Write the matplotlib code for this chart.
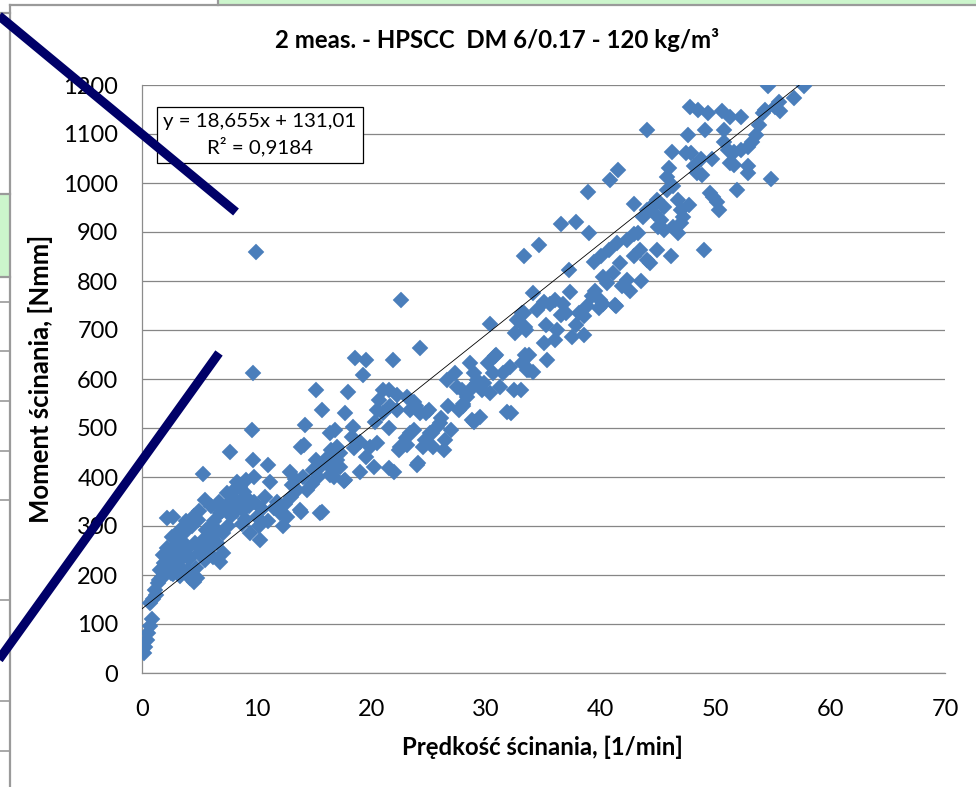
import matplotlib
matplotlib.use("Agg")
import matplotlib.pyplot as plt
from matplotlib.lines import Line2D
from matplotlib.patches import Rectangle
import numpy as np

plt.rcParams['font.family'] = ['Lato', 'DejaVu Sans']

# ---------------- data ----------------
speed = [
    0.2, 0.3, 0.4, 0.55, 0.7, 0.85, 0.7, 1.0, 1.1, 1.4, 1.6, 2.0, 1.9, 2.3, 2.7, 3.3, 3.6, 4.2, 4.5, 4.8,
    2.15, 2.7, 2.6, 3.0, 3.3, 2.7, 3.6, 3.9, 3.3, 4.6, 4.9, 5.6, 5.9, 5.5, 5.3, 6.2, 6.8, 7.1, 6.5, 7.1,
    6.8, 7.5, 7.7, 7.4, 8.0, 8.5, 8.1, 8.5, 8.8, 9.1, 8.7, 9.1, 9.7, 9.6, 9.4, 10.0, 10.3, 10.7, 11.0, 11.2,
    11.5, 12.0, 12.3, 12.6, 12.9, 13.1, 13.5, 13.8, 14.1, 14.4, 14.9, 15.2, 15.7, 16.0, 16.4, 16.5, 17.0,
    1.2, 1.5, 1.8, 2.2, 2.4, 2.9, 3.1, 3.5, 3.8, 4.0, 4.2, 4.4, 4.0, 3.0, 5.0, 5.2, 5.5, 5.8, 6.0, 6.3,
    6.6, 7.0, 7.3, 7.8, 8.2, 8.3, 7.9, 8.9, 9.3, 9.8, 10.2, 6.0, 6.7, 5.0, 4.5, 9.0, 9.8, 10.5, 11.0, 11.8,
    12.5, 13.0, 13.3, 14.0, 14.8, 15.3, 15.5, 16.2, 16.8, 17.3, 3.8, 4.7, 2.5, 1.7,
    22.6, 30.3, 24.2, 18.6, 19.5, 21.9, 19.3, 18.0, 17.7, 16.8, 18.4, 19.0, 19.9, 18.3, 17.0, 16.4, 17.3,
    17.7, 19.0, 20.2, 21.5, 16.7, 20.3, 21.0, 20.7, 21.5, 22.2, 22.2, 23.1, 23.7, 23.4, 24.2, 25.0, 23.7,
    23.0, 22.4, 23.1, 24.1, 24.7, 25.1, 25.7, 25.4, 26.3, 26.4, 26.9, 26.1, 26.7, 26.6, 27.3, 27.5, 27.6,
    28.0, 28.6, 28.6, 28.9, 28.3, 29.2, 29.6, 29.5, 28.9, 30.2, 30.8, 30.6, 31.5, 32.1, 31.2, 32.2, 32.4,
    32.5, 32.7, 33.1, 33.4, 33.4, 33.6, 16.4, 16.7, 17.6, 15.2, 15.7, 14.2, 13.9, 15.5, 13.9, 9.7, 9.9,
    21.0, 20.5, 21.6, 23.9, 24.8, 23.4, 22.5, 24.0, 24.5, 25.3, 26.0, 27.9, 29.2, 28.8, 30.3, 30.9, 31.8,
    33.1, 33.7, 28.0, 29.8, 22.0, 19.5, 20.5, 21.5, 18.5,
    34.1, 33.0, 33.7, 35.3, 35.0, 36.0, 33.5, 33.3, 34.4, 35.2, 36.2, 35.6, 36.7, 37.0, 37.5, 38.5, 38.1,
    38.8, 39.8, 41.3, 40.2, 35.0, 36.0, 37.3, 38.5, 39.2, 39.9, 41.2, 34.1, 33.3, 34.6, 37.2, 36.5, 37.8,
    39.0, 38.9, 40.8, 41.5, 42.9, 44.0, 39.4, 40.0, 40.7, 41.4, 42.3, 42.9, 43.2, 40.2, 41.1, 42.3, 40.5,
    41.7, 42.9, 43.4, 44.0, 44.3, 44.9, 46.1, 49.0, 43.7, 44.6, 45.2, 45.5, 46.7, 45.5, 44.0, 44.9, 47.0,
    47.7, 47.2, 45.8, 45.8, 45.9, 46.3, 46.2, 47.6, 47.9, 48.7, 48.1, 48.4, 48.8, 49.7, 49.5, 50.1, 50.3,
    49.8, 51.6, 51.9, 52.8, 52.8, 50.7, 51.1, 51.6, 52.2, 52.8, 53.2, 53.5, 53.8, 54.1, 54.3, 54.8, 54.6,
    55.2, 55.5, 55.6, 56.8, 57.7, 47.8, 48.5, 49.3, 50.6, 51.3, 52.2, 49.1, 50.7, 47.4, 51.3, 46.7, 44.6,
    47.0, 46.3, 45.0, 39.5, 42.5, 43.5, 41.8, 36.5, 37.8,
]
moment = [
    40, 54, 67, 81, 95, 110, 142, 152, 169, 183, 210, 200, 224, 217, 203, 197, 210, 193, 186, 193,
    316, 319, 278, 271, 292, 244, 251, 237, 231, 265, 312, 292, 278, 353, 407, 237, 227, 244, 265, 285,
    326, 299, 452, 367, 373, 380, 350, 346, 333, 360, 305, 394, 435, 496, 285, 319, 271, 360, 424, 390,
    336, 326, 299, 319, 411, 384, 373, 333, 465, 373, 414, 435, 329, 428, 404, 455, 435,
    160, 190, 240, 255, 230, 260, 285, 270, 290, 255, 235, 300, 210, 225, 245, 270, 230, 255, 300, 310,
    290, 330, 340, 320, 330, 390, 360, 370, 340, 350, 300, 340, 350, 330, 320, 315, 400, 335, 310, 350,
    345, 360, 395, 400, 385, 400, 420, 440, 430, 450, 310, 215, 205, 195,
    762, 713, 663, 642, 639, 639, 608, 574, 530, 496, 503, 472, 462, 482, 462, 441, 421,
    394, 411, 421, 418, 414, 513, 530, 557, 578, 567, 537, 563, 554, 537, 530, 537, 496,
    479, 455, 465, 428, 476, 489, 503, 462, 455, 476, 496, 520, 544, 598, 612, 584, 537,
    550, 632, 578, 612, 564, 591, 578, 523, 513, 632, 646, 612, 612, 625, 584, 530, 578,
    693, 720, 734, 707, 649, 618, 489, 400, 392, 578, 537, 506, 462, 326, 329, 612, 860,
    578, 537, 544, 544, 530, 489, 462, 424, 462, 489, 510, 578, 598, 516, 571, 649, 533,
    632, 618, 544, 591, 410, 440, 470, 500, 460,
    615, 578, 649, 639, 673, 680, 700, 734, 741, 710, 700, 754, 754, 734, 686, 690, 734,
    748, 744, 748, 754, 758, 761, 778, 728, 769, 761, 751, 775, 850, 873, 822, 917, 921,
    897, 982, 1006, 1027, 958, 1108, 839, 850, 863, 877, 884, 895, 898, 809, 816, 802, 795,
    836, 850, 863, 843, 836, 863, 850, 863, 931, 938, 924, 904, 897, 951, 945, 965, 945,
    955, 931, 986, 1013, 1030, 993, 1064, 1098, 1061, 1050, 1034, 1020, 1017, 1050, 979, 962, 945,
    972, 1037, 986, 1034, 1020, 1084, 1067, 1064, 1067, 1074, 1084, 1098, 1118, 1142, 1149, 1009, 1197,
    1156, 1166, 1146, 1173, 1197, 1156, 1149, 1142, 1146, 1135, 1135, 1108, 1108, 1061, 1040, 965, 958,
    918, 911, 911, 780, 780, 800, 790, 730, 710,
]
trend_slope = 18.655
trend_intercept = 131.01
r_squared_text = "0,9184"

title = "2 meas. - HPSCC  DM 6/0.17 - 120 kg/m³"
xlabel = "Prędkość ścinania, [1/min]"
ylabel = "Moment ścinania, [Nmm]"
xticks = [0, 10, 20, 30, 40, 50, 60, 70]
yticks = [0, 100, 200, 300, 400, 500, 600, 700, 800, 900, 1000, 1100, 1200]

# ---------------- figure ----------------
W, H = 976, 787
fig = plt.figure(figsize=(W / 100, H / 100), dpi=100)
fig.patch.set_facecolor('white')


def fp(x, y):
    return x / W, 1 - y / H


# spreadsheet remnants behind the chart
fig.add_artist(Rectangle(fp(218, 5), (W - 218) / W, 5 / H, transform=fig.transFigure,
                         facecolor='#ccf5cc', edgecolor='none', zorder=0))
fig.add_artist(Rectangle(fp(0, 277), 10 / W, (277 - 195) / H, transform=fig.transFigure,
                         facecolor='#ccf5cc', edgecolor='none', zorder=0))
grey = '#9a9a9a'
for (x0, y0, x1, y1) in [(10, 5, W, 5), (218, 0, 218, 5), (10, 5, 10, H),
                         (0, 13, 10, 13), (0, 194, 10, 194), (0, 277, 10, 277)]:
    fig.add_artist(Line2D([x0 / W, x1 / W], [1 - y0 / H, 1 - y1 / H], transform=fig.transFigure,
                          color=grey, lw=1.6, zorder=1))
for yy in [302, 351, 401, 451, 500, 600, 701, 751]:
    fig.add_artist(Line2D([0, 10 / W], [1 - yy / H, 1 - yy / H], transform=fig.transFigure,
                          color=grey, lw=1.2, zorder=1))

# plot area
left, right, top, bottom = 142, 945, 85, 673
ax = fig.add_axes([left / W, 1 - bottom / H, (right - left) / W, (bottom - top) / H])
ax.set_facecolor('none')
ax.set_xlim(0, 70)
ax.set_ylim(0, 1200)
ax.set_xticks(xticks)
ax.set_yticks(yticks)
ax.tick_params(length=0, labelsize=17, colors='black')
ax.tick_params(axis='y', pad=17)
ax.tick_params(axis='x', pad=19)
ax.grid(axis='y', color='#868686', lw=0.9)
ax.set_axisbelow(True)
for s in ['top', 'right']:
    ax.spines[s].set_visible(False)
for s in ['left', 'bottom']:
    ax.spines[s].set_color('#8c8c8c')
    ax.spines[s].set_linewidth(0.9)

ax.plot(speed, moment, linestyle='none', marker='D', ms=8.3, color='#4a7ebb',
        markeredgecolor='#4a7ebb', markeredgewidth=0.3, zorder=3)

tx = np.array([0.0, max(speed)])
ax.plot(tx, trend_slope * tx + trend_intercept, color='black', lw=0.6, zorder=4)

ax.text(0.147, 0.915,
        f"y = {str(trend_slope).replace('.', ',')}x + {str(trend_intercept).replace('.', ',')}\n"
        f"R² = {r_squared_text}",
        transform=ax.transAxes, ha='center', va='center', fontsize=14.7, linespacing=1.4,
        bbox=dict(boxstyle='square,pad=0.3', fc='white', ec='black', lw=0.9), zorder=5)

ax.set_xlabel(xlabel, fontsize=17.2, fontweight='bold')
ax.set_ylabel(ylabel, fontsize=18.5, fontweight='bold')
ax.xaxis.set_label_coords(0.499, -0.126)
ax.yaxis.set_label_coords(-0.127, 0.50)
ax.xaxis.label.set_va('center')
ax.yaxis.label.set_va('center')

fig.text(497 / W, 1 - 40 / H, title, ha='center', va='center', fontsize=17.3, fontweight='bold')

# overlaid navy strokes
navy = '#000068'
fig.add_artist(Line2D([-8 / W, 236 / W], [1 - 10 / H, 1 - 212 / H], transform=fig.transFigure,
                      color=navy, lw=6.5, solid_capstyle='butt', zorder=20))
fig.add_artist(Line2D([-10 / W, 219 / W], [1 - 672 / H, 1 - 353 / H], transform=fig.transFigure,
                      color=navy, lw=6.5, solid_capstyle='butt', zorder=20))

fig.savefig('out.png', dpi=100)
